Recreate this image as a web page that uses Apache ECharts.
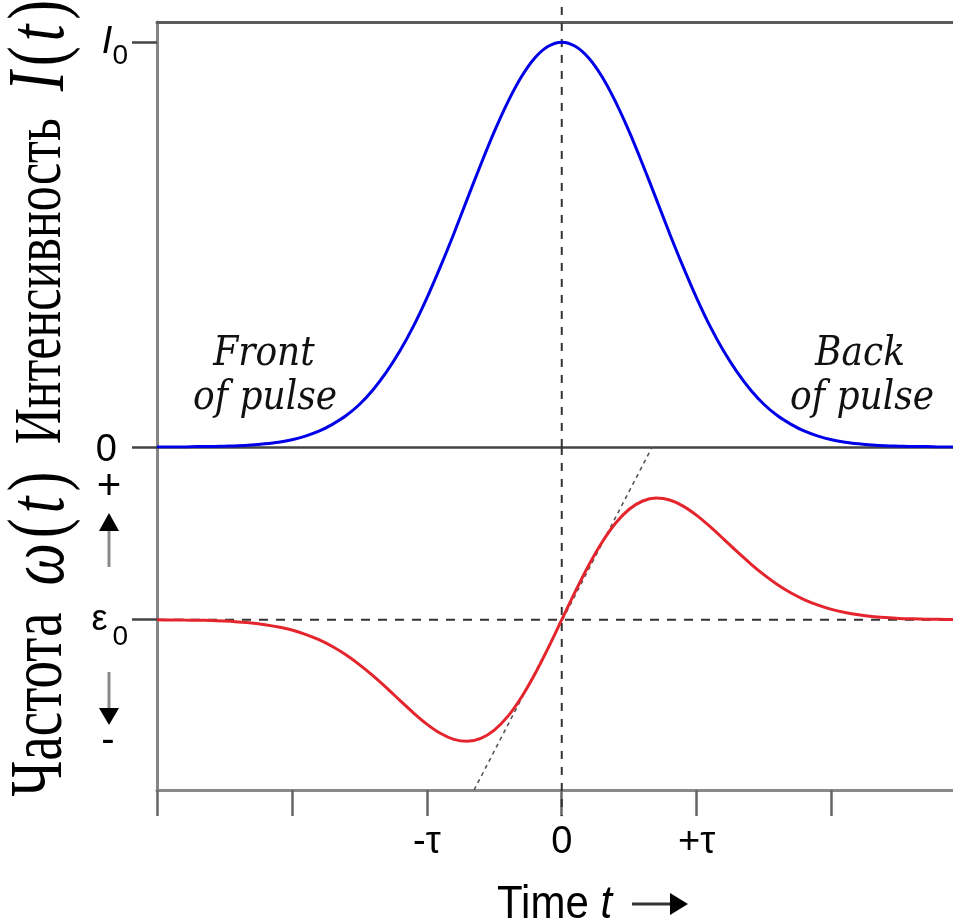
<!DOCTYPE html>
<html><head><meta charset="utf-8">
<script src="https://cdn.jsdelivr.net/npm/echarts@6/dist/echarts.min.js"></script>
<style>html,body{margin:0;padding:0;background:#fff}#c{width:953px;height:924px}</style>
</head><body><div id="c"></div>
<script>
// time in units of tau
const timeT = [-3,-2.9,-2.8,-2.7,-2.6,-2.5,-2.4,-2.3,-2.2,-2.1,-2,-1.9,-1.8,-1.7,-1.6,-1.5,-1.4,-1.3,-1.2,-1.1,-1,-0.9,-0.8,-0.7,-0.6,-0.5,-0.4,-0.3,-0.2,-0.1,0,0.1,0.2,0.3,0.4,0.5,0.6,0.7,0.8,0.9,1,1.1,1.2,1.3,1.4,1.5,1.6,1.7,1.8,1.9,2,2.1,2.2,2.3,2.4,2.5,2.6,2.7,2.8,2.9,3];
// intensity I(t) / I0
const intensity = [0.000,0.000,0.000,0.001,0.001,0.002,0.003,0.005,0.008,0.012,0.018,0.027,0.039,0.056,0.077,0.105,0.141,0.185,0.237,0.298,0.368,0.445,0.527,0.613,0.698,0.779,0.852,0.914,0.961,0.990,1.000,0.990,0.961,0.914,0.852,0.779,0.698,0.613,0.527,0.445,0.368,0.298,0.237,0.185,0.141,0.105,0.077,0.056,0.039,0.027,0.018,0.012,0.008,0.005,0.003,0.002,0.001,0.001,0.000,0.000,0.000];
// frequency deviation (omega - omega0), normalised to its peak
const frequency = [-0.001,-0.002,-0.003,-0.004,-0.007,-0.011,-0.018,-0.027,-0.041,-0.060,-0.085,-0.120,-0.164,-0.220,-0.288,-0.369,-0.460,-0.559,-0.663,-0.765,-0.858,-0.934,-0.984,-1.000,-0.976,-0.908,-0.795,-0.639,-0.448,-0.231,0.000,0.231,0.448,0.639,0.795,0.908,0.976,1.000,0.984,0.934,0.858,0.765,0.663,0.559,0.460,0.369,0.288,0.220,0.164,0.120,0.085,0.060,0.041,0.027,0.018,0.011,0.007,0.004,0.003,0.002,0.001];
// tangent (linear chirp) guide line end points
const chirpLineT = [-0.65, 0.67];
const chirpLineW = [-1.40, 1.42];
// reference line (pulse centre) and omega0 level
const centreT = 0;
const centreTopI = [0, 1.105];
const centreBottomW = [1.42, -1.615];
const omegaRefT = [-3, 2.9];
// tick values and labels
const timeTicks = [-3,-2,-1,0,1,2];
const timeLabelValues = [-1,0,1];
const timeLabels = ['-τ','0','+τ'];
const intensityTicks = [0,1];
const intensityLabels = ['0','I0'];
const freqTicks = [0];
const freqLabels = ['ε0'];

const SANS = 'Liberation Sans';
const SERIF_FONT = (sz, it) => (it ? 'italic ' : '') + sz + 'px "Liberation Serif", "Times New Roman", serif';
const ISERIF = 'DejaVu Serif';

const chart = echarts.init(document.getElementById('c'), null, {renderer:'canvas'});

function pairs(xs, ys){ return xs.map((x,i)=>[x, ys[i]]); }

const option = {
  animation: false,
  backgroundColor: '#fff',
  grid: [
    {left:157, right:0, top:22, height:425},
    {left:157, right:0, top:447, height:343}
  ],
  xAxis: [
    {gridIndex:0, type:'value', min:-3, max:2.9, position:'bottom',
     axisLine:{show:true, onZero:false, lineStyle:{color:'#444', width:2.5}},
     axisTick:{show:false}, axisLabel:{show:false}, splitLine:{show:false}},
    {gridIndex:0, type:'value', min:-3, max:2.9, position:'top',
     axisLine:{show:true, onZero:false, lineStyle:{color:'#5c5c5c', width:3}},
     axisTick:{show:false}, axisLabel:{show:false}, splitLine:{show:false}},
    {gridIndex:1, type:'value', min:-3, max:2.9, interval:1, position:'bottom',
     axisLine:{show:true, onZero:false, lineStyle:{color:'#8a8a8a', width:3}},
     axisTick:{show:true, inside:false, length:26, customValues: timeTicks, lineStyle:{color:'#666', width:2.5}},
     axisLabel:{show:true, customValues: timeLabelValues, margin:34, color:'#000', fontFamily:SANS, fontSize:38,
       formatter: v => { const i = timeLabelValues.indexOf(v); return i>=0 ? timeLabels[i] : ''; }},
     splitLine:{show:false}}
  ],
  yAxis: [
    {gridIndex:0, type:'value', min:0, max:1.05, position:'left',
     axisLine:{show:true, onZero:false, lineStyle:{color:'#858585', width:3}},
     axisTick:{show:true, length:25, customValues: intensityTicks, lineStyle:{color:'#444', width:2.5}},
     axisLabel:{show:true, customValues: intensityTicks, margin:29, color:'#000',
       formatter: v => { const i = intensityTicks.indexOf(v); if (i<0) return '';
         const s = intensityLabels[i]; return s.length>1 ? '{i|'+s[0]+'}{s|'+s.slice(1)+'}' : '{z|'+s+'}'; },
       rich:{
         i:{fontFamily:SANS, fontStyle:'italic', fontSize:38, color:'#000', padding:[0,0,0,0]},
         s:{fontFamily:SANS, fontSize:28, color:'#000', padding:[28,0,0,0]},
         z:{fontFamily:SANS, fontSize:38, padding:[8,11,0,0], color:'#000'}
       }},
     splitLine:{show:false}},
    {gridIndex:1, type:'value', min:-1.4, max:1.42, position:'left',
     axisLine:{show:true, onZero:false, lineStyle:{color:'#858585', width:3}},
     axisTick:{show:true, length:25, customValues: freqTicks, lineStyle:{color:'#444', width:2.5}},
     axisLabel:{show:true, customValues: freqTicks, margin:29, color:'#000',
       formatter: v => { const i = freqTicks.indexOf(v); if (i<0) return '';
         const s = freqLabels[i]; return '{e|'+s[0]+'}{s|'+s.slice(1)+'}'; },
       rich:{
         e:{fontFamily:SANS, fontSize:36, padding:[0,5,0,0], color:'#000'},
         s:{fontFamily:SANS, fontSize:28, padding:[36,0,0,0], color:'#000'}
       }},
     splitLine:{show:false}}
  ],
  series: [
    {type:'line', xAxisIndex:0, yAxisIndex:0, data: pairs([centreT,centreT], centreTopI), clip:false,
     showSymbol:false, silent:true, z:1, lineStyle:{color:'#333', width:2, type:[8,8]}},
    {type:'line', xAxisIndex:2, yAxisIndex:1, data: pairs([centreT,centreT], centreBottomW), clip:false,
     showSymbol:false, silent:true, z:1, lineStyle:{color:'#333', width:2, type:[8,8]}},
    {type:'line', xAxisIndex:2, yAxisIndex:1, data: pairs(omegaRefT, [0,0]),
     showSymbol:false, silent:true, z:1, lineStyle:{color:'#333', width:2, type:[9,8]}},
    {type:'line', xAxisIndex:2, yAxisIndex:1, data: pairs(chirpLineT, chirpLineW), clip:false,
     showSymbol:false, silent:true, z:1, lineStyle:{color:'#555', width:1.6, type:[4,4]}},
    {type:'line', xAxisIndex:0, yAxisIndex:0, data: pairs(timeT, intensity), smooth:0.3,
     showSymbol:false, z:5, lineStyle:{color:'#0000e8', width:3}},
    {type:'line', xAxisIndex:2, yAxisIndex:1, data: pairs(timeT, frequency), smooth:0.3,
     showSymbol:false, z:5, lineStyle:{color:'#e5252d', width:3}}
  ],
  graphic: [
    {type:'text', x:42, y:222, rotation:Math.PI/2, scaleY:1.35, z:10,
     style:{text:'{a|Интенсивность}{b|I}{c|(}{b|t}{c|)}', align:'center', verticalAlign:'middle', fill:'#000',
       rich:{a:{font:SERIF_FONT(50,false), fill:'#000', padding:[0,22,0,0]},
             b:{font:SERIF_FONT(60,true), fill:'#000', padding:[0,5,0,5]},
             c:{font:SERIF_FONT(60,false), fill:'#000'}}}},
    {type:'text', x:42, y:634, rotation:Math.PI/2, scaleY:1.35, z:10,
     style:{text:'{a|Частота}{b|ω}{c|(}{b|t}{c|)}', align:'center', verticalAlign:'middle', fill:'#000',
       rich:{a:{font:SERIF_FONT(55,false), fill:'#000', padding:[0,22,0,0]},
             b:{font:SERIF_FONT(60,true), fill:'#000', padding:[0,5,0,5]},
             c:{font:SERIF_FONT(60,false), fill:'#000'}}}},
    {type:'text', x:109, y:487, z:10, style:{text:'+', fontFamily:SANS, fontSize:42, fill:'#000', align:'center', verticalAlign:'middle'}},
    {type:'line', z:10, shape:{x1:109, y1:529, x2:109, y2:567}, style:{stroke:'#8a8a8a', lineWidth:3}},
    {type:'polygon', z:10, shape:{points:[[109,513],[99,531],[119,531]]}, style:{fill:'#000'}},
    {type:'line', z:10, shape:{x1:109, y1:672, x2:109, y2:709}, style:{stroke:'#8a8a8a', lineWidth:3}},
    {type:'polygon', z:10, shape:{points:[[99,708],[119,708],[109,725]]}, style:{fill:'#000'}},
    {type:'text', x:108, y:741, z:10, style:{text:'-', fontFamily:SANS, fontSize:40, fill:'#000', align:'center', verticalAlign:'middle'}},
    {type:'text', x:264, y:354, scaleY:1.15, z:10, style:{text:'Front', fontFamily:ISERIF, fontStyle:'italic', fontSize:36, fill:'#111', align:'center', verticalAlign:'middle'}},
    {type:'text', x:265, y:398, scaleY:1.15, z:10, style:{text:'of pulse', fontFamily:ISERIF, fontStyle:'italic', fontSize:36, fill:'#111', align:'center', verticalAlign:'middle'}},
    {type:'text', x:860, y:354, scaleY:1.15, z:10, style:{text:'Back', fontFamily:ISERIF, fontStyle:'italic', fontSize:36, fill:'#111', align:'center', verticalAlign:'middle'}},
    {type:'text', x:862, y:398, scaleY:1.15, z:10, style:{text:'of pulse', fontFamily:ISERIF, fontStyle:'italic', fontSize:36, fill:'#111', align:'center', verticalAlign:'middle'}},
    {type:'text', x:497, y:905, scaleY:1.1, z:10, style:{text:'{a|Time }{b|t}', align:'left', verticalAlign:'middle', fill:'#000',
       rich:{a:{fontFamily:SANS, fontSize:42, fill:'#000'}, b:{fontFamily:SANS, fontStyle:'italic', fontSize:42, fill:'#000'}}}},
    {type:'line', z:10, shape:{x1:632, y1:904, x2:672, y2:904}, style:{stroke:'#333', lineWidth:3}},
    {type:'polygon', z:10, shape:{points:[[670,893],[670,915],[688,904]]}, style:{fill:'#000'}}
  ]
};
chart.setOption(option);
</script>
</body></html>
